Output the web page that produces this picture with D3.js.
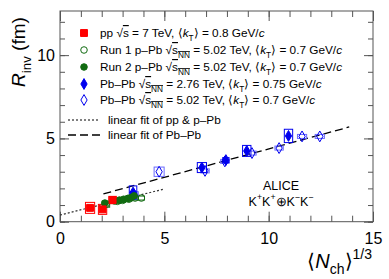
<!DOCTYPE html>
<html>
<head>
<meta charset="utf-8">
<script src="https://cdn.jsdelivr.net/npm/d3@7"></script>
<style>
  html, body { margin: 0; padding: 0; background: #fff; }
  svg { display: block; font-family: "Liberation Sans", Arial, sans-serif; }
</style>
</head>
<body>
<svg id="chart" width="389" height="279"></svg>
<script>
// ---- data ----
const xTickLabels = [0, 5, 10, 15];
const yTickLabels = [0, 5, 10];

// pp 7 TeV
const ppX = [1.44, 2.04, 2.52];
const ppY = [0.83, 0.74, 1.30];
const ppSysX = [0.22, 0.2, 0.18];
const ppSysY = [0.33, 0.3, 0.22];

// Run 1 p-Pb 5.02 TeV (open circles)
const pPb1X = [2.2, 2.75, 3.0, 3.3, 3.6, 3.9];
const pPb1Y = [1.05, 1.22, 1.28, 1.35, 1.42, 1.42];
const pPb1SysX = [0.18, 0.15, 0.15, 0.15, 0.15, 0.15];
const pPb1SysY = [0.18, 0.12, 0.12, 0.12, 0.12, 0.12];

// Run 2 p-Pb 5.02 TeV (filled circles)
const pPb2X = [2.15, 2.6, 2.85, 3.05, 3.25, 3.4, 3.55];
const pPb2Y = [1.12, 1.25, 1.3, 1.35, 1.4, 1.45, 1.55];

// Pb-Pb 2.76 TeV (filled diamonds)
const pbpb276X = [3.5, 6.8, 7.95, 8.95, 10.95];
const pbpb276Y = [1.75, 3.25, 3.7, 4.25, 5.15];
const pbpb276SysX = [0.18, 0.22, 0.15, 0.2, 0.2];
const pbpb276SysY = [0.4, 0.3, 0.15, 0.33, 0.4];

// Pb-Pb 5.02 TeV (open diamonds)
const pbpb502X = [3.55, 4.75, 6.95, 7.9, 9.2, 10.5, 11.6, 12.45];
const pbpb502Y = [1.65, 3.0, 3.05, 3.62, 4.12, 4.42, 5.12, 5.12];
const pbpb502SysX = [0.2, 0.24, 0.2, 0.2, 0.2, 0.2, 0.22, 0.22];
const pbpb502SysY = [0.15, 0.28, 0.12, 0.12, 0.12, 0.12, 0.12, 0.12];

// linear fits: [x0, x1], intercept, slope
const fitSmallRange = [0, 4.95];
const fitSmall = { a: 0.40, b: 0.313 };
const fitPbPbRange = [2.08, 13.86];
const fitPbPb = { a: 0.96, b: 0.341 };

const legendLabels = [
  [{ t: 'pp ' }, { t: '√' }, { t: 's', over: true }, { t: ' = 7 TeV, ⟨' }, { t: 'k', i: true }, { t: 'T', sub: true }, { t: '⟩ = 0.8 GeV/' }, { t: 'c', i: true }],
  [{ t: 'Run 1 p–Pb ' }, { t: '√' }, { t: 's', over: true }, { t: 'NN', sub: true, over: true }, { t: ' = 5.02 TeV, ⟨' }, { t: 'k', i: true }, { t: 'T', sub: true }, { t: '⟩ = 0.7 GeV/' }, { t: 'c', i: true }],
  [{ t: 'Run 2 p–Pb ' }, { t: '√' }, { t: 's', over: true }, { t: 'NN', sub: true, over: true }, { t: ' = 5.02 TeV, ⟨' }, { t: 'k', i: true }, { t: 'T', sub: true }, { t: '⟩ = 0.7 GeV/' }, { t: 'c', i: true }],
  [{ t: 'Pb–Pb ' }, { t: '√' }, { t: 's', over: true }, { t: 'NN', sub: true, over: true }, { t: ' = 2.76 TeV, ⟨' }, { t: 'k', i: true }, { t: 'T', sub: true }, { t: '⟩ = 0.75 GeV/' }, { t: 'c', i: true }],
  [{ t: 'Pb–Pb ' }, { t: '√' }, { t: 's', over: true }, { t: 'NN', sub: true, over: true }, { t: ' = 5.02 TeV, ⟨' }, { t: 'k', i: true }, { t: 'T', sub: true }, { t: '⟩ = 0.7 GeV/' }, { t: 'c', i: true }],
];
const fitLabels = ['linear fit of pp & p–Pb', 'linear fit of Pb–Pb'];

// ---- drawing ----
const RED = '#ff0000', GREEN = '#116b11', BLUE = '#0000ee', BLUE_BOX = '#6a6aff', AXIS = '#555';
const svg = d3.select('#chart');
const x = d3.scaleLinear().domain([0, 15]).range([60, 373]);
const y = d3.scaleLinear().domain([0, 12.65]).range([221.7, 11]);

function rich(sel, parts, size) {
  parts.forEach((p) => {
    const ts = sel.append('tspan').text(p.t);
    if (p.i) ts.attr('font-style', 'italic');
    if (p.sub) ts.attr('font-size', size * 0.7).attr('baseline-shift', -size * 0.3);
    if (p.sup) ts.attr('font-size', size * 0.7).attr('baseline-shift', size * 0.45);
    if (p.over) ts.style('text-decoration', 'overline');
  });
  return sel;
}

// frame
svg.append('rect').attr('x', x(0)).attr('y', y(12.65)).attr('width', x(15) - x(0)).attr('height', y(0) - y(12.65))
  .attr('fill', 'none').attr('stroke', AXIS).attr('stroke-width', 1);

const minorX = d3.range(0, 16, 1);
const minorY = d3.range(0, 13, 1);
function ticks(g) { g.select('.domain').remove(); g.selectAll('.tick line').attr('stroke', AXIS); }
function labels(g) { g.selectAll('.tick text').attr('fill', '#000').attr('font-size', 16).attr('font-family', 'Liberation Sans'); }

// bottom / top
svg.append('g').attr('transform', `translate(0,${y(0)})`).call(d3.axisBottom(x).tickValues(minorX).tickSize(-6).tickFormat('')).call(ticks);
svg.append('g').attr('transform', `translate(0,${y(0)})`)
  .call(d3.axisBottom(x).tickValues(xTickLabels).tickSize(-10).tickPadding(11).tickFormat((d) => String(d)))
  .call(ticks).call(labels);
svg.append('g').attr('transform', `translate(0,${y(12.65)})`).call(d3.axisTop(x).tickValues(minorX).tickSize(-6).tickFormat('')).call(ticks);
svg.append('g').attr('transform', `translate(0,${y(12.65)})`).call(d3.axisTop(x).tickValues(xTickLabels).tickSize(-10).tickFormat('')).call(ticks);
// left / right
svg.append('g').attr('transform', `translate(${x(0)},0)`).call(d3.axisLeft(y).tickValues(minorY).tickSize(-5).tickFormat('')).call(ticks);
svg.append('g').attr('transform', `translate(${x(0)},0)`)
  .call(d3.axisLeft(y).tickValues(yTickLabels).tickSize(-9).tickPadding(5).tickFormat((d) => String(d)))
  .call(ticks).call(labels);
svg.append('g').attr('transform', `translate(${x(15)},0)`).call(d3.axisRight(y).tickValues(minorY).tickSize(-5).tickFormat('')).call(ticks);
svg.append('g').attr('transform', `translate(${x(15)},0)`).call(d3.axisRight(y).tickValues(yTickLabels).tickSize(-9).tickFormat('')).call(ticks);

// axis titles
const yt = svg.append('text').attr('transform', 'translate(25,52) rotate(-90)').attr('text-anchor', 'middle').attr('font-size', 19);
rich(yt, [{ t: 'R', i: true }, { t: 'inv', sub: true }, { t: ' (fm)' }], 19);
const xt = svg.append('text').attr('x', 372).attr('y', 268).attr('text-anchor', 'end').attr('font-size', 20);
rich(xt, [{ t: '⟨' }, { t: 'N', i: true }, { t: 'ch', sub: true }, { t: '⟩' }, { t: '1/3', sup: true }], 20);

// fit lines
const line = d3.line().x((d) => x(d[0])).y((d) => y(d[1]));
svg.append('path').datum(fitSmallRange.map((v) => [v, fitSmall.a + fitSmall.b * v]))
  .attr('d', line).attr('fill', 'none').attr('stroke', '#333').attr('stroke-width', 1.2).attr('stroke-dasharray', '2,2');
svg.append('path').datum(fitPbPbRange.map((v) => [v, fitPbPb.a + fitPbPb.b * v]))
  .attr('d', line).attr('fill', 'none').attr('stroke', '#000').attr('stroke-width', 1.3).attr('stroke-dasharray', '8,4');

// systematic boxes
function boxes(xs, ys, sx, sy, color) {
  svg.append('g').selectAll('rect').data(xs).join('rect')
    .attr('x', (d, i) => x(d - sx[i])).attr('y', (d, i) => y(ys[i] + sy[i]))
    .attr('width', (d, i) => x(d + sx[i]) - x(d - sx[i])).attr('height', (d, i) => y(ys[i] - sy[i]) - y(ys[i] + sy[i]))
    .attr('fill', 'none').attr('stroke', color).attr('stroke-width', 1);
}
boxes(ppX, ppY, ppSysX, ppSysY, RED);
boxes(pPb1X, pPb1Y, pPb1SysX, pPb1SysY, GREEN);
boxes(pbpb502X, pbpb502Y, pbpb502SysX, pbpb502SysY, BLUE_BOX);
boxes(pbpb276X, pbpb276Y, pbpb276SysX, pbpb276SysY, BLUE);

// markers
const shapes = {
  square: d3.symbol(d3.symbolSquare, 48),
  circle: d3.symbol(d3.symbolCircle, 34),
  diamond: d3.symbol(d3.symbolDiamond, 34),
};
function markers(xs, ys, shape, color, filled) {
  svg.append('g').selectAll('path').data(xs).join('path')
    .attr('transform', (d, i) => `translate(${x(d)},${y(ys[i])})`)
    .attr('d', shapes[shape])
    .attr('fill', filled ? color : 'none').attr('stroke', color).attr('stroke-width', 1);
}
markers(pbpb502X, pbpb502Y, 'diamond', BLUE, false);
markers(pbpb276X, pbpb276Y, 'diamond', BLUE, true);
markers(pPb1X, pPb1Y, 'circle', GREEN, false);
markers(pPb2X, pPb2Y, 'circle', GREEN, true);
markers(ppX, ppY, 'square', RED, true);

// legend
const LEG_FONT = 11.8;
const legendRowsY = [33, 50, 67, 84, 100];
const legendMarks = [['square', RED, true], ['circle', GREEN, false], ['circle', GREEN, true], ['diamond', BLUE, true], ['diamond', BLUE, false]];
const lg = svg.append('g').attr('font-size', LEG_FONT);
legendLabels.forEach((parts, i) => {
  const [shape, color, filled] = legendMarks[i];
  lg.append('path').attr('transform', `translate(84,${legendRowsY[i]})`).attr('d', shapes[shape])
    .attr('fill', filled ? color : 'none').attr('stroke', color);
  rich(lg.append('text').attr('x', 100).attr('y', legendRowsY[i] + 4), parts, LEG_FONT);
});
const fitRowsY = [120, 135];
[['2,2', 1.2], ['8,4', 1.3]].forEach(([dash, w], i) => {
  lg.append('line').attr('x1', 68).attr('x2', 100).attr('y1', fitRowsY[i]).attr('y2', fitRowsY[i])
    .attr('stroke', '#000').attr('stroke-width', w).attr('stroke-dasharray', dash);
  lg.append('text').attr('x', 108).attr('y', fitRowsY[i] + 4).text(fitLabels[i]);
});

// ALICE label
svg.append('text').attr('x', 281).attr('y', 190).attr('text-anchor', 'middle').attr('font-size', 12.5).text('ALICE');
rich(svg.append('text').attr('x', 281).attr('y', 206).attr('text-anchor', 'middle').attr('font-size', 12.5),
  [{ t: 'K' }, { t: '+', sup: true }, { t: 'K' }, { t: '+', sup: true }, { t: '⊕K' }, { t: '−', sup: true }, { t: 'K' }, { t: '−', sup: true }], 12.5);
</script>
</body>
</html>
